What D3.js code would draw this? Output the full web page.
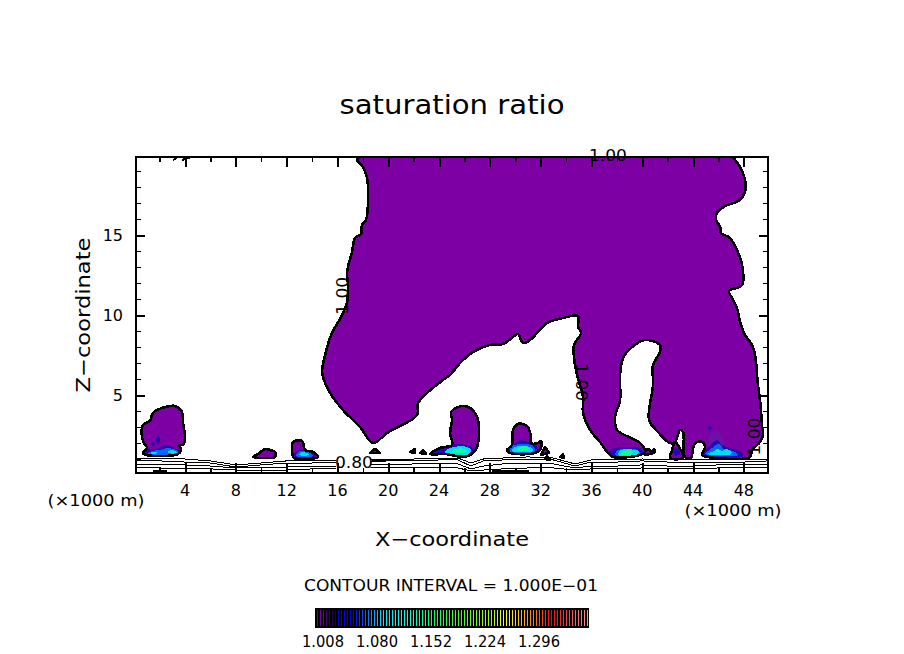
<!DOCTYPE html>
<html>
<head>
<meta charset="utf-8">
<script src="https://cdnjs.cloudflare.com/ajax/libs/d3/7.8.5/d3.min.js"></script>
<style>
  html, body { margin: 0; padding: 0; background: #fff; }
  svg { display: block; }
  text { font-family: "DejaVu Sans", sans-serif; font-weight: 400; fill: #000; }
</style>
</head>
<body>
<script>
// all outlines are [x km, z km]
const mainRegion = [[17.78,19.875],[17.54,19.69],[18.01,19.25],[18.33,18.56],[18.41,17.06],[18.25,15.94],[17.94,15.63],[17.86,15.06],[17.39,14.81],[17.15,13.94],[16.76,12.69],[16.83,11.88],[16.76,10.81],[16.28,9.88],[15.57,8.88],[15.26,8.19],[14.79,6.44],[14.94,5.94],[15.42,5.13],[16.44,4.06],[17.78,3.0],[18.8,2.0],[19.91,2.63],[22.27,3.75],[22.35,4.5],[24.31,5.94],[24.87,6.25],[25.65,7.0],[26.68,7.69],[28.02,8.13],[29.04,8.19],[29.83,8.63],[30.22,8.81],[30.61,8.25],[31.17,8.44],[32.5,9.5],[33.76,9.81],[34.94,9.94],[34.94,9.25],[35.18,8.88],[34.63,8.13],[34.63,7.31],[34.87,6.25],[35.34,4.88],[35.34,3.88],[35.89,2.81],[36.68,2.06],[37.23,1.44],[37.7,1.13],[39.83,1.25],[40.22,1.44],[39.83,2.0],[38.02,2.81],[37.86,3.63],[38.25,4.69],[38.25,6.25],[38.49,7.31],[39.2,8.0],[40.22,8.44],[41.39,8.13],[41.39,7.69],[40.85,6.88],[40.85,5.63],[40.54,3.44],[41.24,2.69],[42.19,2.0],[42.58,2.06],[42.97,2.81],[43.21,2.69],[43.29,1.25],[43.45,1.06],[43.84,1.06],[43.92,1.25],[44.16,2.0],[44.71,2.06],[44.94,1.75],[44.71,1.25],[45.1,1.13],[48.48,1.13],[48.64,1.56],[49.27,2.06],[49.5,2.5],[49.43,3.13],[49.27,4.69],[49.11,5.63],[48.88,7.5],[48.64,8.13],[48.09,8.75],[47.7,9.56],[47.46,10.44],[47.07,11.06],[46.83,11.5],[47.86,11.88],[47.86,13.13],[47.46,14.06],[46.91,14.81],[46.2,15.13],[46.13,15.5],[45.81,15.94],[45.89,16.38],[46.52,16.81],[47.7,17.19],[48.09,17.69],[48.09,18.44],[47.7,19.25],[47.31,19.69],[47.07,19.875]];
const blobA = [[0.69,1.38],[0.93,1.25],[3.45,1.31],[3.69,1.56],[3.53,1.88],[3.84,1.88],[4.0,2.38],[3.84,3.25],[3.76,3.94],[3.21,4.31],[2.43,4.25],[1.48,3.88],[1.24,3.38],[0.69,3.13],[0.61,2.38],[0.77,2.0],[1.01,1.69]];
const blobB = [[9.37,1.13],[9.75,1.31],[10.3,1.63],[10.69,1.56],[11.09,1.44],[11.09,1.13],[10.06,1.06]];
const blobC = [[12.5,2.06],[13.21,2.13],[13.45,1.56],[14.08,1.44],[14.47,1.13],[12.58,1.06],[12.43,1.56]];
const blobD = [[23.29,1.31],[24.08,1.69],[25.02,1.88],[24.87,2.63],[25.02,3.44],[24.95,3.94],[25.81,4.31],[26.44,4.19],[26.99,3.63],[27.15,2.63],[26.99,1.75],[26.68,1.38],[26.05,1.13],[24.47,1.31]];
const blobE = [[29.36,1.56],[29.75,1.88],[29.83,2.81],[30.22,3.19],[30.93,3.06],[31.17,2.63],[31.24,2.0],[31.8,2.0],[32.03,2.13],[32.03,1.69],[31.56,1.38],[29.59,1.38]];
const blobF = [[40.14,1.31],[40.45,1.63],[40.77,1.44],[40.93,1.63],[41.01,1.5],[40.61,1.31]];
const blobG = [[42.19,1.06],[42.35,1.56],[42.58,2.06],[42.89,1.75],[43.21,1.25],[43.21,1.06]];
const specks = [
  [[18.57,1.38],[18.96,1.63],[19.35,1.38]],
  [[21.72,1.44],[22.11,1.63],[22.11,1.38]],
  [[22.5,1.38],[22.74,1.56],[22.98,1.31]],
  [[32.03,1.25],[32.35,1.75],[32.66,1.38]],
  [[32.5,1.19],[32.74,0.94],[32.35,1.0]],
  [[33.53,1.13],[33.76,1.31],[33.84,1.06]]
];

// saturation excess patches, by level
const level103 = [
  [[0.93,1.25],[1.09,1.63],[1.8,1.63],[2.43,1.88],[2.82,1.81],[3.21,1.63],[3.61,1.56],[3.45,1.31]],
  [[1.87,2.44],[2.03,2.19],[1.87,1.94],[1.72,2.19]],
  [[1.48,2.06],[1.64,1.94],[1.48,1.81],[1.33,1.94]],
  [[12.58,1.13],[12.74,1.5],[13.84,1.5],[14.32,1.13]],
  [[23.29,1.31],[24.08,1.63],[24.87,1.88],[26.44,1.81],[26.83,1.44],[26.05,1.19],[24.47,1.31]],
  [[29.43,1.63],[29.83,1.88],[30.37,2.19],[31.17,2.0],[31.71,1.75],[31.48,1.44],[29.67,1.44]],
  [[37.31,1.31],[37.62,1.63],[38.64,1.75],[39.83,1.69],[40.07,1.38],[38.25,1.13]],
  [[42.43,1.44],[42.66,1.69],[42.97,1.38],[42.66,1.19]],
  [[44.71,1.25],[45.17,1.69],[45.88,2.19],[46.27,1.88],[46.9,1.69],[47.92,1.38],[47.84,1.13],[44.79,1.13]],
  [[45.33,3.06],[45.48,2.94],[45.33,2.81],[45.17,2.94]]
];
const level106 = [
  [[1.09,1.31],[1.4,1.5],[2.03,1.56],[2.58,1.69],[2.98,1.63],[3.45,1.5],[3.37,1.31]],
  [[12.74,1.19],[12.9,1.44],[13.68,1.44],[14.08,1.19]],
  [[29.59,1.44],[29.67,1.75],[30.37,1.94],[31.4,1.81],[31.56,1.5]],
  [[37.86,1.25],[38.09,1.56],[38.8,1.63],[39.67,1.56],[39.83,1.31]],
  [[44.94,1.31],[45.41,1.63],[46.04,1.94],[46.43,1.63],[47.15,1.5],[47.54,1.25]]
];
const level112 = [
  [[1.24,1.38],[1.64,1.44],[1.8,1.38],[1.4,1.31]],
  [[2.66,1.5],[3.29,1.5],[3.37,1.38],[2.66,1.38]],
  [[13.0,1.25],[13.06,1.38],[13.61,1.38],[13.77,1.25]],
  [[24.47,1.44],[24.87,1.69],[26.05,1.78],[26.52,1.56],[26.36,1.31],[25.65,1.25],[24.71,1.31]],
  [[29.75,1.5],[29.83,1.69],[30.37,1.81],[31.32,1.69],[31.4,1.5]],
  [[38.09,1.25],[38.33,1.56],[39.2,1.59],[39.74,1.5],[39.67,1.31]],
  [[45.17,1.31],[45.64,1.5],[45.95,1.63],[46.27,1.5],[46.66,1.63],[47.07,1.38],[46.75,1.25]]
];
const level117 = [
  [[25.02,1.5],[25.34,1.63],[25.97,1.63],[26.2,1.44],[25.65,1.38],[25.1,1.38]],
  [[30.15,1.56],[30.3,1.75],[31.01,1.75],[31.09,1.56]],
  [[38.33,1.31],[38.56,1.5],[39.2,1.5],[39.2,1.31]],
  [[45.79,1.44],[45.95,1.63],[46.11,1.44]]
];
const patchLevels = [
  { ring: level103, color: '#2408b4' },
  { ring: level106, color: '#0068f4' },
  { ring: level112, color: '#00dcf4' },
  { ring: level117, color: '#14f8a0' }
];
const faintPatch = [[45.48,2.69],[45.95,2.75],[46.43,1.88],[45.17,1.81]];

// low contours along the ground
const groundX = [0.14,2,4,6,8,10,12,14,16,18,20,22,24,25.5,26.5,27.5,29,31,33,34.7,36,38,40,42,44,46,48,49.9];
const groundA = [1.06,1.06,1.0,0.88,0.63,0.75,0.88,0.88,0.94,0.94,1.0,1.0,1.06,1.06,0.75,1.0,1.06,1.13,1.06,0.69,0.94,0.94,1.0,0.94,0.94,0.94,0.94,1.0];
const groundB = [0.88,0.88,0.81,0.75,0.5,0.63,0.75,0.75,0.81,0.81,0.88,0.88,0.94,0.94,0.56,0.88,0.94,1.0,0.94,0.56,0.81,0.81,0.88,0.81,0.81,0.81,0.81,0.88];
const groundC = [0.69,0.63,0.63,0.56,0.44,0.44,0.5,0.56,0.56,0.63,0.63,0.69,0.75,0.69,0.38,0.56,0.69,0.75,0.69,0.44,0.56,0.56,0.63,0.56,0.56,0.63,0.63,0.69];
const groundD = [0.5,0.44,0.38,0.38,0.31,0.25,0.31,0.38,0.38,0.44,0.44,0.44,0.5,0.44,0.25,0.31,0.38,0.44,0.44,0.31,0.38,0.38,0.44,0.38,0.38,0.44,0.44,0.5];
const groundBits = [
  [[1.5,0.25],[2.6,0.25]],
  [[28.2,0.25],[31.1,0.25]],
  [[18.7,0.94],[19.8,0.94]],
  [[3.06,19.69],[3.45,19.875],[4.47,19.875],[3.76,19.69]]
];
// the contours stop around the 0.80 label
const labelGap = [[15.9,0.2],[15.9,1.19],[18.6,1.19],[18.6,0.2]];

const contourLabels = [
  { text: '1.00', x: 37.3, z: 19.95, angle: 0 },
  { text: '1.00', x: 16.4, z: 11.2, angle: -90 },
  { text: '1.00', x: 35.2, z: 5.8, angle: 90 },
  { text: '1.00', x: 48.9, z: 2.4, angle: -90 },
  { text: '0.80', x: 17.3, z: 0.75, angle: 0 }
];

const xMajor = [4,8,12,16,20,24,28,32,36,40,44,48];
const xMinor = [2,6,10,14,18,22,26,30,34,38,42,46];
const zMajor = [5,10,15];
const zMinor = [1,2,3,4,6,7,8,9,11,12,13,14,16,17,18,19];

const barStopLevels = [1.0,1.004,1.02,1.024,1.028,1.048,1.072,1.088,1.12,1.152,1.188,1.232,1.252,1.276,1.296,1.312,1.328,1.36];
const barStopColors = ['#6c0096','#7c00a8','#200050','#0c0c30','#0000d8','#0000ff','#0090ff','#00e4ff','#00ffe0','#00ff70','#40ff10','#a0ff00','#ffff00','#ffb000','#ff6000','#ff0000','#ff3030','#ff9090'];
const barTicks = [1.008,1.080,1.152,1.224,1.296];

const width = 904, height = 654;
const svg = d3.select('body').append('svg')
  .attr('width', width)
  .attr('height', height);

const x = d3.scaleLinear().domain([0.14, 49.9]).range([136, 768]);
const z = d3.scaleLinear().domain([0.125, 19.875]).range([473, 157]);
const line = d3.line().x(d => x(d[0])).y(d => z(d[1]));
// contour outlines are rounder than straight segments
const outline = d3.line().x(d => x(d[0])).y(d => z(d[1])).curve(d3.curveCatmullRomClosed.alpha(0.5));

svg.append('clipPath').attr('id', 'frame')
  .append('rect')
  .attr('x', 136).attr('y', 157)
  .attr('width', 632).attr('height', 316);

const plot = svg.append('g').attr('clip-path', 'url(#frame)');

// purple areas, then the higher levels on top
const regions = [mainRegion, blobA, blobB, blobC, blobD, blobE, blobF, blobG];

function regionPath(d) {
  return regions.includes(d) ? outline(d) : line(d) + 'Z';
}

plot.selectAll('.region-fill').data(regions.concat(specks)).enter().append('path')
  .attr('class', 'region-fill')
  .attr('d', regionPath)
  .attr('fill', '#7c00a4')
  .attr('shape-rendering', 'crispEdges');

plot.append('path')
  .attr('d', outline(faintPatch))
  .attr('fill', '#6c10a8')
  .attr('shape-rendering', 'crispEdges');

patchLevels.forEach(level => {
  plot.append('g').selectAll('path').data(level.ring).enter().append('path')
    .attr('d', outline)
    .attr('fill', level.color)
    .attr('shape-rendering', 'crispEdges');
});

plot.selectAll('.region-line').data(regions.concat(specks)).enter().append('path')
  .attr('class', 'region-line')
  .attr('d', regionPath)
  .attr('fill', 'none')
  .attr('stroke', '#000')
  .attr('stroke-width', 2.6)
  .attr('stroke-linejoin', 'round')
  .attr('shape-rendering', 'crispEdges');

[groundA, groundB, groundC, groundD].forEach(values => {
  plot.append('path')
    .attr('d', line(values.map((v, i) => [groundX[i], v])))
    .attr('fill', 'none')
    .attr('stroke', '#000')
    .attr('stroke-width', 1)
    .attr('shape-rendering', 'crispEdges');
});

plot.append('path')
  .attr('d', line(labelGap) + 'Z')
  .attr('fill', '#fff');

plot.selectAll('.bit').data(groundBits).enter().append('path')
  .attr('class', 'bit')
  .attr('d', line)
  .attr('fill', 'none')
  .attr('stroke', '#000')
  .attr('stroke-width', 2)
  .attr('shape-rendering', 'crispEdges');

// contour labels
svg.selectAll('.clabel').data(contourLabels).enter().append('text')
  .attr('class', 'clabel')
  .attr('transform', d => `translate(${x(d.x)},${z(d.z)}) rotate(${d.angle})`)
  .attr('text-anchor', 'middle')
  .attr('dominant-baseline', 'central')
  .attr('font-size', 15)
  .attr('textLength', 38)
  .attr('lengthAdjust', 'spacingAndGlyphs')
  .text(d => d.text);

// axes, ticks point inward on all four sides
function tickAxis(axis, scale, values, size, y) {
  const g = svg.append('g')
    .attr('transform', y)
    .call(axis(scale).tickValues(values).tickSize(-size).tickFormat(''));
  g.select('.domain').remove();
  g.selectAll('line')
    .attr('stroke', '#000')
    .attr('stroke-width', size > 6 ? 2 : 1.5)
    .attr('shape-rendering', 'crispEdges');
  return g;
}

tickAxis(d3.axisBottom, x, xMajor, 10, 'translate(0,473)');
tickAxis(d3.axisBottom, x, xMinor, 5, 'translate(0,473)');
tickAxis(d3.axisTop, x, xMajor, 10, 'translate(0,157)');
tickAxis(d3.axisTop, x, xMinor, 5, 'translate(0,157)');
tickAxis(d3.axisLeft, z, zMajor, 9, 'translate(136,0)');
tickAxis(d3.axisLeft, z, zMinor, 5, 'translate(136,0)');
tickAxis(d3.axisRight, z, zMajor, 9, 'translate(768,0)');
tickAxis(d3.axisRight, z, zMinor, 5, 'translate(768,0)');

svg.append('rect')
  .attr('x', 136).attr('y', 157)
  .attr('width', 632).attr('height', 316)
  .attr('fill', 'none')
  .attr('stroke', '#000')
  .attr('stroke-width', 2)
  .attr('shape-rendering', 'crispEdges');

svg.selectAll('.xlabel').data(xMajor).enter().append('text')
  .attr('class', 'xlabel')
  .attr('x', d => x(d))
  .attr('y', 490)
  .attr('text-anchor', 'middle')
  .attr('dominant-baseline', 'central')
  .attr('font-size', 16)
  .text(d => d);

svg.selectAll('.zlabel').data(zMajor).enter().append('text')
  .attr('class', 'zlabel')
  .attr('x', 123)
  .attr('y', d => z(d))
  .attr('text-anchor', 'end')
  .attr('dominant-baseline', 'central')
  .attr('font-size', 16)
  .text(d => d);

function label(text, cx, cy, size, length, angle) {
  svg.append('text')
    .attr('transform', `translate(${cx},${cy}) rotate(${angle || 0})`)
    .attr('text-anchor', 'middle')
    .attr('dominant-baseline', 'central')
    .attr('font-size', size)
    .attr('textLength', length)
    .attr('lengthAdjust', 'spacingAndGlyphs')
    .text(text);
}

label('saturation ratio', 452, 104, 27, 225);
label('X\u2212coordinate', 452, 539, 20, 154);
label('Z\u2212coordinate', 83, 315, 20, 155, -90);
label('(\u00d71000 m)', 96, 501, 15, 97);
label('(\u00d71000 m)', 733, 511, 15, 97);
label('CONTOUR INTERVAL = 1.000E\u221201', 451, 586, 15, 294);

// colour bar: one thin line per level on a black box
const barLevels = d3.range(0, 91).map(i => 1 + i * 0.004);
const barX = d3.scaleLinear().domain([1.0, 1.36]).range([317, 587]);
const barColor = d3.scaleLinear().domain(barStopLevels).range(barStopColors);

svg.append('rect')
  .attr('x', 315).attr('y', 608)
  .attr('width', 274).attr('height', 20)
  .attr('fill', '#000');

svg.selectAll('.cell').data(barLevels).enter().append('rect')
  .attr('class', 'cell')
  .attr('x', d => Math.round(barX(d)))
  .attr('y', 610)
  .attr('width', 1)
  .attr('height', 16)
  .attr('fill', d => barColor(d))
  .attr('shape-rendering', 'crispEdges');

svg.selectAll('.barlabel').data(barTicks).enter().append('text')
  .attr('class', 'barlabel')
  .attr('x', d => barX(d))
  .attr('y', 642)
  .attr('text-anchor', 'middle')
  .attr('dominant-baseline', 'central')
  .attr('font-size', 15)
  .attr('textLength', 42)
  .attr('lengthAdjust', 'spacingAndGlyphs')
  .text(d => d.toFixed(3));
</script>
</body>
</html>
